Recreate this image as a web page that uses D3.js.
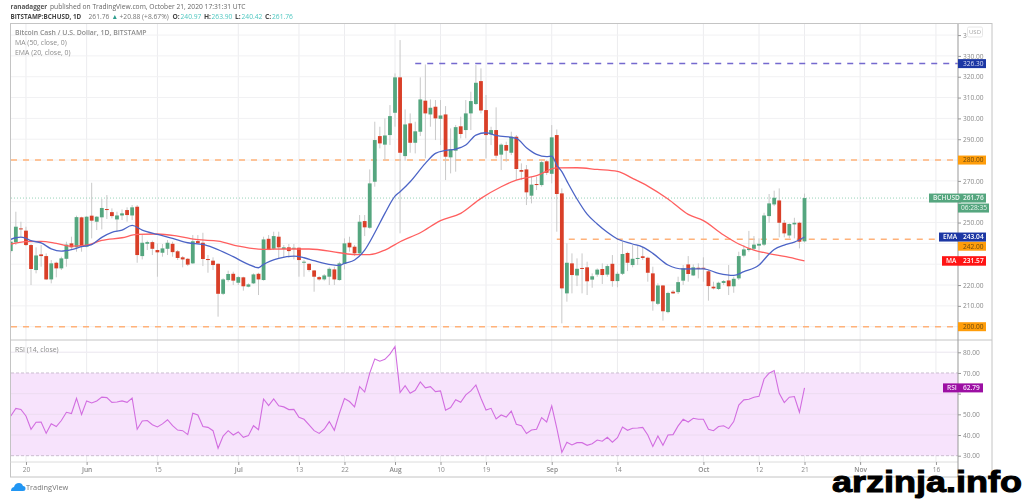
<!DOCTYPE html>
<html>
<head>
<meta charset="utf-8">
<title>BCHUSD</title>
<script src="https://cdn.jsdelivr.net/npm/d3@7"></script>
<style>
  html, body { margin: 0; padding: 0; background: #fff; }
  svg { display: block; font-family: "Open Sans", sans-serif; }
  .axis path, .axis line { stroke: #999; }
  .axis text { fill: #8a8a8a; font-size: 6.6px; font-family: "Open Sans", sans-serif; }
  .blurry { filter: blur(0.45px); }
</style>
</head>
<body>
<div id="chart"></div>
<script>
// daily candles, 17 May 2020 to 21 Oct 2020
var opens = [
  236.3,240.5,247.2,246.1,239.2,227.2,234.7,233.9,222.7,230.7,228,232.6,240,238.1,252.5,
  238.4,253.3,250.4,252.5,256.5,255,251.5,253.4,256,253.4,257.6,233.9,239.8,240.6,236.8,235.5,237.4,239.8,236.2,233.3,232.6,230.4,241.1,240.3,232.5,231.7,230.2,215.8,222.4,225.4,
  221.1,223.7,219.2,220.8,225.4,222.4,242.2,237.4,243.2,237.3,238.1,237.4,237.9,230.7,230.2,227,223.8,222.7,224,227.5,222.4,230.1,240.3,238.4,235.2,250.7,247.5,269.6,291.5,287.4,292,
  302.7,319.7,281.9,297.6,288.3,293.6,308.5,301.9,305.6,299.8,301.9,281.3,284.5,296.2,294.4,302.4,306.9,317.9,304,292.3,294.4,282.6,287.2,283.5,291.2,275.2,275.5,262.9,268.5,268,279.4,
  273.4,292,264,216,230.4,224.6,228.2,228.5,222.6,225,227.7,225,230.2,221.9,225.4,235.4,229.6,232.5,233.8,233.1,225.6,211,219.8,207,216.8,216.6,222.1,229.9,224.6,228.3,
  228.3,226.6,219.2,218.1,221,222.2,219.4,223.2,234.1,236.8,237.4,238.9,239.4,253.1,258.7,260.6,249.9,243.8,249.1,249.9,240.97
]
var highs = [
  242.4,255.2,250.4,248,239.7,238.1,239.2,235.2,232,231.2,233.6,240.8,243.2,253.3,252.8,
  253.1,269.1,253.1,261.3,263.2,256.8,255.2,256.3,257.3,258.4,258.4,244,241.3,241.3,240,239.7,241.6,240.8,236.8,233.9,233,244,244,245.1,234.4,233.3,230.4,223.2,226.9,226.4,
  224.3,224,220.8,225.6,225.9,243.2,244,245.6,245.6,239.2,239.7,239.7,238.1,232,230.4,227.2,224.3,225.3,228.5,228.8,231.2,242.4,243.2,239.2,253.6,253.6,275.5,298.4,296,300,306.4,
  321.6,337.6,304.3,302.4,298.4,319.7,325.9,309.1,308.8,308.8,305.9,295.2,296.8,300.8,308.8,312.8,325.6,324,311.2,296,305.3,288,288.8,293.6,292,278.4,277.6,272,272,280,280,
  296.8,294.7,266.4,240,235.2,232.8,235.2,231.2,225.6,228,230.4,230,234.4,226.4,240.8,236,239.2,238.7,238.4,233.6,228.8,220.8,220,216.8,217.6,224,229.6,233.9,229.9,230.4,
  233.3,227.2,221.6,221.6,222.4,229.6,224,236,239.2,246,243.5,242.4,254.7,263.7,265.3,266.4,251.2,249.6,252.3,250.4,263.9
]
var lows = [
  235.5,239.2,243.2,238.7,220,225.6,228.8,222.4,220.8,223.7,227.2,228.8,236.8,236,236,
  238.1,242.4,246.4,246.7,251.7,252,245.6,251.2,250.4,251.2,230.7,232.3,236.8,234.4,224,233.6,234.4,233.6,232,228.5,229.1,230.1,239.7,229.1,225.9,227.2,204.8,215.2,221.6,220,
  220,217.3,218.9,220.5,215.2,222.1,236.8,236.8,232.8,233.3,233.1,232.3,224,224,226.4,216.8,222.1,222.1,220,220,222.1,227.5,236,233.9,234.4,243.5,247,267.2,285.6,280,287.2,
  296,244.8,279.7,283.5,283.2,291.5,280.8,296,289.6,287.2,270.4,273.6,274.4,290.4,290.4,294.4,306.4,302.4,280.8,287.2,280.8,275.2,279.2,282.4,270.4,270.4,258.4,259.2,265.6,267.2,272.8,
  268.8,245.6,201.6,212,216,219.5,216,215.2,218.7,224,220.5,224,219.2,218.9,224.8,226.7,228.5,229.6,232,221.6,207.7,210.4,202.9,206.4,215.7,215.7,220,221.6,224.3,223.2,
  221.6,212.5,217.9,217.6,220,215.2,216.3,222.4,233.3,236,236.8,232,238.7,249.9,257.9,242.9,242.9,242.4,242.4,237.6,240.42
]
var closes = [
  240.8,248,246.7,239.2,227.7,234.2,233.9,222.7,230.4,228,232.8,239.4,238.1,252.6,238.4,
  252.8,250.9,252.8,257,256,253.1,253.4,254.4,253.6,257.3,234.4,240.3,240.6,237.4,235.7,237.6,240.3,235.8,233,232.3,229.8,241,240,232.5,232,229.6,215.8,222.7,225.3,222.1,
  223.8,219.4,220.3,225.1,222.7,241.9,236.8,243.5,238.1,238.1,236.3,237.9,232,231.2,227.2,224,222.7,224.6,227.8,222.7,230.4,240,238.1,235.2,250.4,247.7,268.8,289.6,288,291.8,301.1,
  319.7,283.5,297.1,288.3,293.8,309.1,302.4,305.1,300,301.4,281.6,285.1,295.8,292.5,302.4,308.3,317.1,303.8,292,294.4,282.1,287.4,284.5,291.2,275.7,274.4,264.5,268.2,268,279,273.9,
  290.9,263.7,218.4,230.7,224.8,227.8,227.7,221.8,224.2,227.4,224.8,229.1,221.9,225.4,234.9,230.7,232.6,233,233,225.9,212.2,219.8,207.4,216.2,216,221.4,228,225.3,228.5,227.8,
  227.8,219.5,218.4,221.1,221.9,219.4,223,233.9,237.1,237.6,239.4,239.8,253.4,259.2,261.9,249.9,244.8,249.3,249.9,240.8,261.76
]

// the two moving averages, read at a handful of dates
var emaDates = ["05-17","05-18","05-19","05-20","05-21","05-23","05-25","05-27","05-29","05-31","06-02","06-04","06-06","06-08","06-10","06-12","06-15","06-18","06-21","06-24","06-26","06-30","07-03","07-05","07-06","07-09","07-12","07-14","07-16","07-18","07-21","07-22","07-24","07-26","07-28","07-30","08-01","08-02","08-04","08-07","08-09","08-11","08-13","08-15","08-17","08-19","08-21","08-25","08-27","08-29","08-31","09-01","09-02","09-03","09-04","09-06","09-08","09-10","09-12","09-14","09-17","09-19","09-21","09-24","09-27","10-01","10-04","10-07","10-09","10-12","10-14","10-15","10-17","10-19","10-21"]
var emaValues = [241.9,242.7,243,242.4,241.3,240.2,237.4,236.3,237,238.4,239.4,242.9,245.3,246.4,248.6,246.4,244.3,242.4,240.3,239.5,238,233.6,229.9,228.3,229.9,232.8,233.9,233.1,231.7,230.4,229.4,230.4,232,236.8,245.1,254.4,262.7,264.8,269.6,278.4,283.2,284.6,285.3,287.2,292,293.1,291.8,290.4,285.9,282.7,281.6,281.9,277.6,274.4,269.9,261.3,254,249.3,245.3,242.1,239.7,238.2,235.2,229.6,227.7,227.8,225.6,224.6,226.4,229.6,234.9,237.1,239.2,240.6,243.04]
var maDates = ["05-17","05-20","05-23","05-26","05-29","06-01","06-04","06-08","06-11","06-15","06-19","06-23","06-27","07-01","07-06","07-10","07-15","07-21","07-24","07-27","07-30","08-02","08-06","08-10","08-14","08-18","08-22","08-25","08-29","09-02","09-06","09-10","09-14","09-17","09-20","09-24","09-28","10-01","10-05","10-08","10-11","10-15","10-18","10-21"]
var maValues = [239.7,240.8,241,240,238.7,239.2,241.4,242.7,244.3,244.5,243.5,241.8,241.1,238.7,237.1,237.3,237.3,235.5,234.6,234.6,236.8,240.8,245.1,250.9,254.4,261.6,267.2,270.4,272.5,276.2,276.3,275.5,274.6,271.2,267.5,261.3,253.9,250.9,244,239.7,236.8,234.6,233.3,231.57]

// RSI, one value per day
var rsiValues = [
  49.2,52.9,52.4,49.2,42.8,46.2,46.3,40.8,45.4,44.1,47,51,50.4,57.8,49.9,
  56.5,55.5,56.5,58.3,58.1,55.8,56,56.5,55.8,57.9,42.8,46.8,47,45,43.9,45.4,47.4,44.5,42.4,42.1,40.2,50.5,49.7,44.1,43.7,42.1,33.6,39.5,42.1,40,
  41.5,38.9,39.7,44.5,42.6,57.4,54.2,57.4,54.1,53.6,52.3,52.4,48.6,47.6,44.9,42.1,40.8,42.8,46.5,42.3,50.5,57.6,56.2,53.6,63.4,60.8,69.9,76.8,75.7,76.6,79.1,82.8,
  60.5,63.9,60.2,61.6,65.7,62.8,63.4,61,61.3,52,53.3,57.1,55.8,59.4,61.3,64.2,57.8,52.1,52.9,47.8,49.7,48.7,51.6,45.2,44.5,40.7,42.4,42.8,48.4,46.3,
  54.1,43.3,31.6,36.5,35.2,36.3,36.3,35,35.8,37.6,37,38.9,36.5,38.7,43.9,42.3,43.3,43.4,43.7,40,34.5,39.5,35,40,40.2,44.4,47.6,46.3,48.1,47.6,
  47.6,42.8,42.1,44.1,44.5,43.1,46.5,54.5,57,57.3,58.3,58.7,67.1,69.9,71.2,60.2,55.7,58.3,58.6,51,62.79
]

var priceTicks = [210,220,230,240,250,260,270,280,290,300,310,320,330,340]
var hiddenPriceTicks = [230,240,260]
var rsiTicks = [30,40,50,60,70,80]
var timeTicks = ["05-20","06-01","06-15","07-01","07-13","07-22","08-01","08-10","08-19","09-01","09-14","10-01","10-12","10-21","11-01","11-16"]
var timeLabels = ["20","Jun","15","Jul","13","22","Aug","10","19","Sep","14","Oct","12","21","Nov","16"]
var monthLabels = ["Jun","Jul","Aug","Sep","Oct","Nov"]

var resistance = 326.3, support = 280, midLevel = 242, floorLevel = 200

var parseDay = function(s) { return new Date(Date.UTC(2020, +s.slice(0, 2) - 1, +s.slice(3))) }
var days = d3.utcDay.range(parseDay("05-17"), parseDay("10-22"))

var width = 1024, height = 499
var paneLeft = 11, axisX = 958, frameRight = 992
var frameTop = 24, paneBreak = 340, rsiBottom = 462, frameBottom = 477

var xScale = d3.scaleUtc().domain([parseDay("05-17"), parseDay("10-21")]).range([10.8, 804.5])
var yScale = d3.scaleLinear().domain([200, 330]).range([326.7, 55.9])
var rsiScale = d3.scaleLinear().domain([30, 80]).range([455.7, 352.3])

var svg = d3.select("#chart").append("svg")
    .attr("width", width)
    .attr("height", height)

var chart = svg.append("g").attr("class", "blurry")

var defs = svg.append("defs")
defs.append("clipPath").attr("id", "mainClip").append("rect")
  .attr("x", paneLeft).attr("y", frameTop).attr("width", axisX - paneLeft).attr("height", paneBreak - frameTop)

// grid
var grid = chart.append("g").attr("stroke", "#f1f1f3").attr("stroke-width", 1)
timeTicks.forEach(function(t) {
  grid.append("line")
    .attr("x1", xScale(parseDay(t))).attr("x2", xScale(parseDay(t)))
    .attr("y1", frameTop).attr("y2", rsiBottom)
    .attr("stroke", "#ececef")
})
priceTicks.concat([200]).forEach(function(p) {
  grid.append("line")
    .attr("x1", paneLeft).attr("x2", axisX)
    .attr("y1", yScale(p)).attr("y2", yScale(p))
})

// rsi band goes under its grid lines
chart.append("rect")
  .attr("x", paneLeft).attr("width", axisX - paneLeft)
  .attr("y", rsiScale(70)).attr("height", rsiScale(30) - rsiScale(70))
  .attr("fill", "#f7e3fc")
rsiTicks.forEach(function(r) {
  chart.append("line")
    .attr("x1", paneLeft).attr("x2", axisX)
    .attr("y1", rsiScale(r)).attr("y2", rsiScale(r))
    .attr("stroke", (r == 30 || r == 70) ? "#cbbdd0" : "#ecdcf0")
    .attr("stroke-dasharray", (r == 30 || r == 70) ? "3,2" : null)
})
chart.append("line")
  .attr("x1", paneLeft).attr("x2", axisX)
  .attr("y1", rsiScale(80)).attr("y2", rsiScale(80))
  .attr("stroke", "#f1f1f3")

// horizontal levels the author drew
function level(value, fromDay, color) {
  chart.append("line")
    .attr("x1", fromDay ? xScale(parseDay(fromDay)) : paneLeft).attr("x2", axisX)
    .attr("y1", yScale(value)).attr("y2", yScale(value))
    .attr("stroke", color)
    .attr("stroke-width", 1.5)
    .attr("stroke-dasharray", "6,6")
}
level(support, null, "#ffb27a")
level(floorLevel, null, "#ffb27a")
level(midLevel, "09-02", "#ffb27a")
level(resistance, "08-05", "#7469cf")

// last price line
chart.append("line")
  .attr("x1", paneLeft).attr("x2", axisX)
  .attr("y1", yScale(closes[closes.length - 1])).attr("y2", yScale(closes[closes.length - 1]))
  .attr("stroke", "#7cc7a6")
  .attr("stroke-width", 0.8)
  .attr("stroke-dasharray", "1,2")

// candles
var candles = chart.append("g").attr("clip-path", "url(#mainClip)")
candles.selectAll(".wick")
  .data(days)
  .enter().append("line")
  .attr("class", "wick")
  .attr("x1", function(d) { return xScale(d) })
  .attr("x2", function(d) { return xScale(d) })
  .attr("y1", function(d, i) { return yScale(highs[i]) })
  .attr("y2", function(d, i) { return yScale(lows[i]) })
  .attr("stroke", "#c9c9c9")
  .attr("stroke-width", 1)

candles.selectAll(".body")
  .data(days)
  .enter().append("rect")
  .attr("class", "body")
  .attr("x", function(d) { return xScale(d) - 1.9 })
  .attr("width", 3.8)
  .attr("y", function(d, i) { return yScale(Math.max(opens[i], closes[i])) })
  .attr("height", function(d, i) { return Math.max(1, Math.abs(yScale(opens[i]) - yScale(closes[i]))) })
  .attr("fill", function(d, i) { return closes[i] >= opens[i] ? "#55a67f" : "#d93f28" })

// moving averages
var avgLine = d3.line()
  .x(function(d) { return xScale(parseDay(d.day)) })
  .y(function(d) { return yScale(d.value) })
  .curve(d3.curveMonotoneX)

function pairUp(dates, values) {
  return dates.map(function(d, i) { return { day: d, value: values[i] } })
}

chart.append("path")
  .datum(pairUp(maDates, maValues))
  .attr("d", avgLine)
  .attr("fill", "none").attr("stroke", "#ff5f5f").attr("stroke-width", 1.3)

chart.append("path")
  .datum(pairUp(emaDates, emaValues))
  .attr("d", avgLine)
  .attr("fill", "none").attr("stroke", "#4c64c6").attr("stroke-width", 1.3)

// rsi line
var rsiLine = d3.line()
  .x(function(d, i) { return xScale(days[i]) })
  .y(function(d) { return rsiScale(d) })

chart.append("path")
  .datum(rsiValues)
  .attr("d", rsiLine)
  .attr("fill", "none").attr("stroke", "#d26de0").attr("stroke-width", 1.1)

// frame and pane dividers
chart.append("rect")
  .attr("x", 10.5).attr("y", frameTop - 0.5)
  .attr("width", frameRight - 10.5).attr("height", frameBottom - frameTop + 0.5)
  .attr("fill", "none").attr("stroke", "#c4c4c4").attr("stroke-width", 1)
chart.append("line")
  .attr("x1", 10.5).attr("x2", frameRight)
  .attr("y1", paneBreak).attr("y2", paneBreak)
  .attr("stroke", "#c4c4c4")
chart.append("line")
  .attr("x1", 10.5).attr("x2", axisX)
  .attr("y1", rsiBottom).attr("y2", rsiBottom)
  .attr("stroke", "#dcdcdc")

// axes
var priceAxis = d3.axisRight(yScale)
  .tickValues(priceTicks)
  .tickSize(3)
  .tickPadding(2)
  .tickFormat(function(d) {
    if (d == 340) return "3" // the USD button sits on the rest of this one
    return hiddenPriceTicks.indexOf(d) >= 0 ? "" : d3.format(".2f")(d)
  })
chart.append("g").attr("class", "axis")
  .attr("transform", "translate(" + axisX + ",0)")
  .call(priceAxis)
  .call(function(g) { g.select(".domain").attr("d", "M0," + frameTop + "V" + frameBottom) })

var rsiAxis = d3.axisRight(rsiScale)
  .tickValues(rsiTicks)
  .tickSize(3)
  .tickPadding(2)
  .tickFormat(function(d) { return d == 60 ? "" : d3.format(".2f")(d) })
chart.append("g").attr("class", "axis")
  .attr("transform", "translate(" + axisX + ",0)")
  .call(rsiAxis)
  .call(function(g) { g.select(".domain").remove() })

var timeAxis = d3.axisBottom(xScale)
  .tickValues(timeTicks.map(parseDay))
  .tickSize(3)
  .tickPadding(2)
  .tickFormat(function(d, i) { return timeLabels[i] })
chart.append("g").attr("class", "axis")
  .attr("transform", "translate(0," + rsiBottom + ")")
  .call(timeAxis)
  .call(function(g) {
    g.select(".domain").remove()
    g.selectAll("text").attr("font-weight", function(d, i) {
      return monthLabels.indexOf(timeLabels[i]) >= 0 ? 600 : null
    })
  })

// usd button
chart.append("rect")
  .attr("x", 967.5).attr("y", 27).attr("width", 15).attr("height", 10).attr("rx", 1.5)
  .attr("fill", "#fff").attr("stroke", "#e6e6e6")
chart.append("text").attr("x", 975).attr("y", 34.3)
  .attr("text-anchor", "middle").attr("font-size", 6).attr("fill", "#a5a5a5")
  .text("USD")

// price tags on the axis; shift is only there where the real tags get pushed apart
function tag(value, color, left, right, shift, boxHeight) {
  var cy = yScale(value) + shift
  chart.append("rect")
    .attr("x", left).attr("width", right - left)
    .attr("y", cy - boxHeight / 2).attr("height", boxHeight)
    .attr("fill", color)
  return cy
}
function tagText(text, x, cy, fill, weight) {
  chart.append("text")
    .attr("x", x).attr("y", cy + 2.3)
    .attr("font-size", 6.6)
    .attr("font-weight", weight || 400)
    .attr("fill", fill)
    .text(text)
}

var cy = tag(resistance, "#1c37a4", 958, 986, 0, 9)
tagText("326.30", 963, cy, "#d9dff5")
cy = tag(support, "#ff9d0a", 958, 986, 0, 9)
tagText("280.00", 963, cy, "#6b4a10")
cy = tag(floorLevel, "#ff9d0a", 958, 986, 0, 9)
tagText("200.00", 963, cy, "#6b4a10")
cy = tag(midLevel, "#ff9d0a", 958, 986, 7, 9)
tagText("242.00", 963, cy, "#6b4a10")
cy = tag(emaValues[emaValues.length - 1], "#1c37a4", 939, 986, 0, 9)
tagText("EMA", 943, cy, "#fff", 600)
tagText("243.04", 963, cy, "#fff", 600)
cy = tag(maValues[maValues.length - 1], "#ff1414", 942, 986, 0, 9.5)
tagText("MA", 946, cy, "#fff", 600)
tagText("231.57", 963, cy, "#fff", 600)
cy = tag(closes[closes.length - 1], "#55a67f", 929, 986, 0, 9)
tagText("BCHUSD", 933, cy, "#eaf5ef", 600)
tagText("261.76", 963, cy, "#eaf5ef", 600)
chart.append("rect")
  .attr("x", 958).attr("width", 31)
  .attr("y", cy + 5.5).attr("height", 9)
  .attr("fill", "#55a67f")
tagText("06:28:35", 961, cy + 10, "#eaf5ef")

chart.append("rect")
  .attr("x", 943).attr("width", 40)
  .attr("y", rsiScale(62.79) - 4.5).attr("height", 9)
  .attr("fill", "#9c0fa3")
tagText("RSI", 947, rsiScale(62.79), "#f7e3fc", 600)
tagText("62.79", 963, rsiScale(62.79), "#f7e3fc", 600)

// legend
function legend(text, y, weight) {
  chart.append("text").attr("x", 15).attr("y", y)
    .attr("font-size", 6.9).attr("font-weight", weight || 400).attr("fill", "#8c8c8c")
    .text(text)
}
legend("Bitcoin Cash / U.S. Dollar, 1D, BITSTAMP", 35, 600)
legend("MA (50, close, 0)", 45)
legend("EMA (20, close, 0)", 55)
legend("RSI (14, close)", 352)

// header lines
var headerInfo = [
  { text: "ranadagger", x: 10.5, y: 9, size: 6.4, weight: 700, fill: "#555" },
  { text: "published on TradingView.com, October 21, 2020 17:31:31 UTC", x: 50, y: 9, size: 6.7, fill: "#666" },
  { text: "BITSTAMP:BCHUSD, 1D", x: 10.5, y: 18.5, size: 6.3, weight: 700, fill: "#444" },
  { text: "261.76", x: 88.5, y: 18.5, size: 6.7, fill: "#777" },
  { text: "▲", x: 111.5, y: 18.5, size: 6.7, fill: "#2f9e8f" },
  { text: "+20.88 (+8.67%)", x: 119.5, y: 18.5, size: 6.7, fill: "#777" },
  { text: "O:", x: 172.5, y: 18.5, size: 6.7, weight: 700, fill: "#444" },
  { text: "240.97", x: 180.5, y: 18.5, size: 6.7, fill: "#4ec7c0" },
  { text: "H:", x: 204, y: 18.5, size: 6.7, weight: 700, fill: "#444" },
  { text: "263.90", x: 211.5, y: 18.5, size: 6.7, fill: "#4ec7c0" },
  { text: "L:", x: 235, y: 18.5, size: 6.7, weight: 700, fill: "#444" },
  { text: "240.42", x: 241.5, y: 18.5, size: 6.7, fill: "#4ec7c0" },
  { text: "C:", x: 265, y: 18.5, size: 6.7, weight: 700, fill: "#444" },
  { text: "261.76", x: 272, y: 18.5, size: 6.7, fill: "#4ec7c0" }
]
chart.selectAll(".head")
  .data(headerInfo)
  .enter().append("text")
  .attr("class", "head")
  .attr("x", function(d) { return d.x })
  .attr("y", function(d) { return d.y })
  .attr("font-size", function(d) { return d.size })
  .attr("font-weight", function(d) { return d.weight || 400 })
  .attr("fill", function(d) { return d.fill })
  .text(function(d) { return d.text })

// tradingview mark
chart.append("path")
  .attr("d", "M11,491 q0,-3.5 3,-4 q1,-4 5,-4 q3,0 4,3 q2.5,0 2.5,2.5 q0,2.5 -2.5,2.5 z")
  .attr("fill", "#2196f3")
chart.append("text").attr("x", 26).attr("y", 490)
  .attr("font-size", 7.4).attr("fill", "#777")
  .text("TradingView")

// site watermark over the corner, stretched wide like the original
svg.append("text")
  .attr("x", 832).attr("y", 491.5)
  .attr("textLength", 190)
  .attr("lengthAdjust", "spacingAndGlyphs")
  .attr("font-family", "'Liberation Sans', Arial, sans-serif")
  .attr("font-weight", 700)
  .attr("font-size", 29)
  .attr("stroke", "#000").attr("stroke-width", 1)
  .attr("fill", "#000")
  .text("arzinja.info")
</script>
</body>
</html>
